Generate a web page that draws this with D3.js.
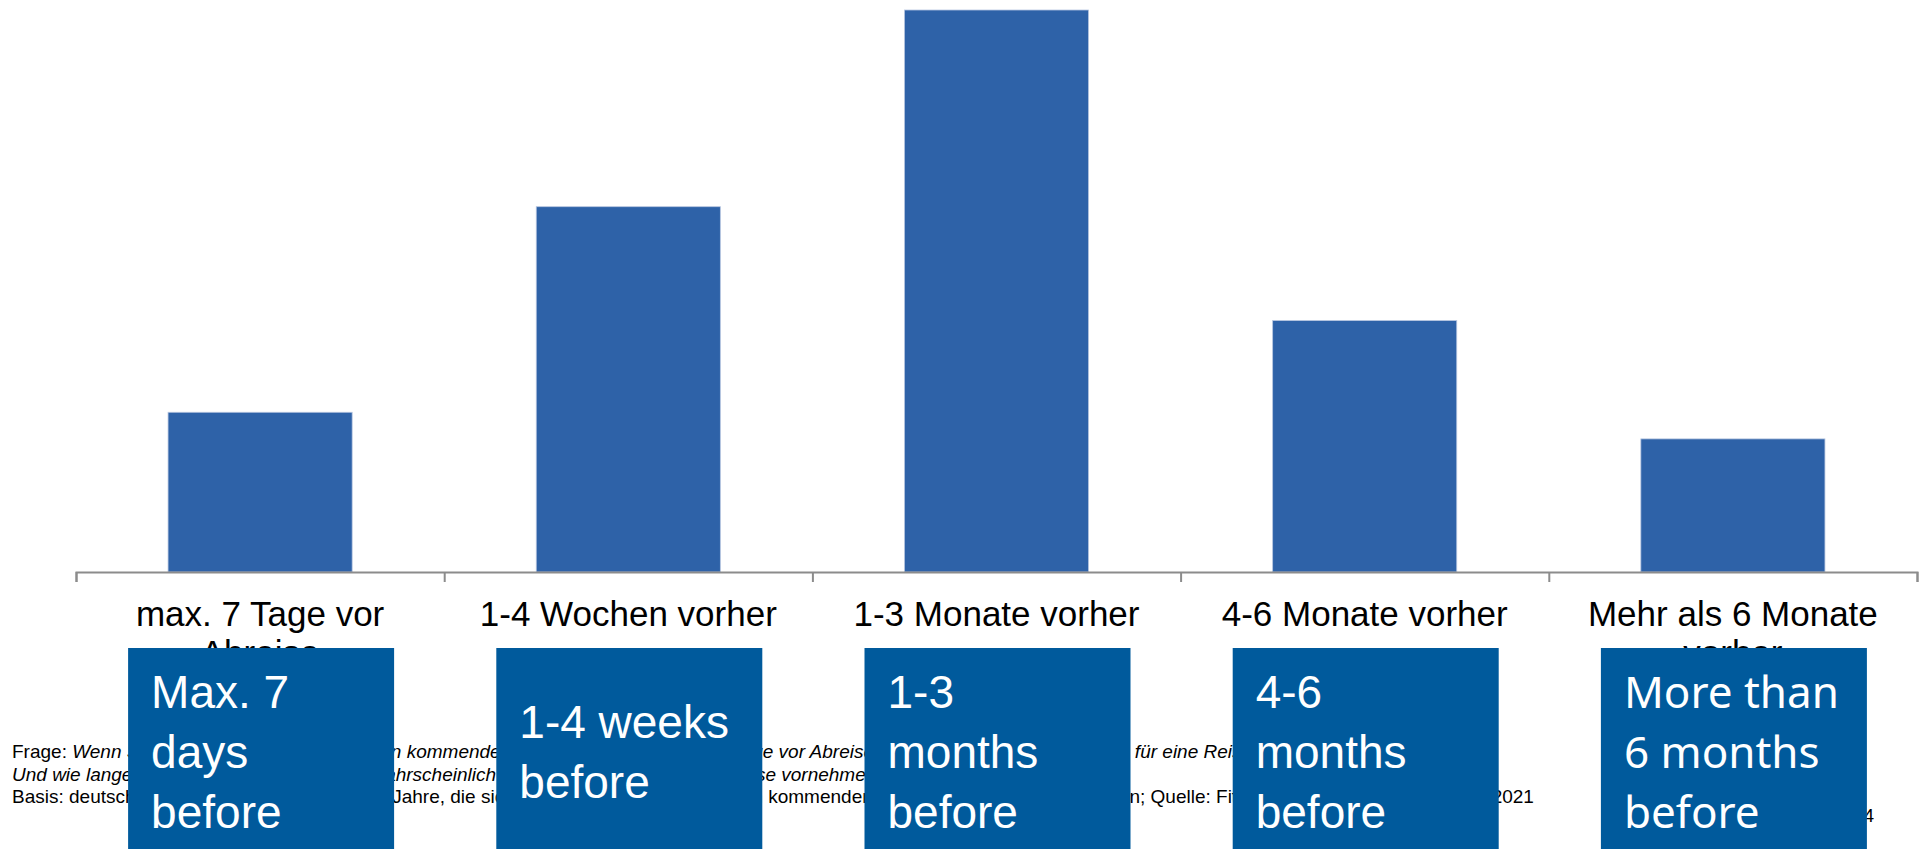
<!DOCTYPE html>
<html>
<head>
<meta charset="utf-8">
<script src="https://cdn.jsdelivr.net/npm/d3@7"></script>
<style>
  body { margin: 0; background: #fff; }
  svg { display: block; }
</style>
</head>
<body>
<div id="chart"></div>
<script>
const WIDTH = 1921;
const HEIGHT = 849;

// data (share of respondents, %)
const categories = [
    "max. 7 Tage vor Abreise",
    "1-4 Wochen vorher",
    "1-3 Monate vorher",
    "4-6 Monate vorher",
    "Mehr als 6 Monate vorher"
];
const values = [10.8, 24.7, 38.0, 17.0, 9.0];

// English overlay captions, one list of lines per category
const captions = [
    ["Max. 7", "days", "before"],
    ["1-4 weeks", "before"],
    ["1-3", "months", "before"],
    ["4-6", "months", "before"],
    ["More than", "6 months", "before"]
];

const footerLines = [
    [["Frage: ", "normal"], ["Wenn Sie an Ihre nächste Reise in den kommenden zwölf Monaten: Wie viele Tage vor Abreise buchen Sie erfahrungsgemäß für eine Reise?", "italic"]],
    [["Und wie lange vor der Abreise werden Sie wahrscheinlich die Buchung der nächsten Reise vornehmen?", "italic"]],
    [["Basis: deutschsprachige Internet-User ab 18 Jahre, die sich gut vorstellen können, in den kommenden Monaten eine Reise zu buchen; Quelle: Fittkau & Maaß, W3B-Report 09/2021", "normal"]]
];
const pageNumber = "4";

const AXIS_Y = 572;
const X0 = 76, X1 = 1917;

var svg = d3.select('#chart')
    .append('svg')
    .attr('width', WIDTH)
    .attr('height', HEIGHT);

let x = d3.scaleBand()
    .domain(categories)
    .range([X0, X1])
    .paddingInner(0.5)
    .paddingOuter(0.25);

let y = d3.scaleLinear()
    .domain([0, 38])
    .range([AXIS_Y, 10]);

// bars
svg.selectAll('rect.bar')
    .data(values)
    .enter()
    .append('rect')
    .attr('class', 'bar')
    .attr('x', (d, i) => x(categories[i]))
    .attr('y', d => y(d))
    .attr('width', x.bandwidth())
    .attr('height', d => AXIS_Y - y(d))
    .attr('fill', '#2e62a8')
    .attr('stroke', '#b7c6e0')
    .attr('stroke-width', 0.8);

// category axis: ticks between the categories
let boundary = d3.scaleLinear().domain([0, categories.length]).range([X0, X1]);
let axis = svg.append('g')
    .attr('transform', `translate(0,${AXIS_Y})`)
    .call(d3.axisBottom(boundary).ticks(categories.length).tickSize(10).tickFormat('').tickSizeOuter(10));
axis.select('.domain').attr('stroke', '#8c8c8c').attr('stroke-width', 2);
axis.selectAll('.tick line').attr('stroke', '#8c8c8c').attr('stroke-width', 2);

// category labels, wrapped to the category width
function wrap(textSel, width) {
    textSel.each(function () {
        let text = d3.select(this);
        let words = text.text().split(/\s+/);
        let line = [];
        let xPos = text.attr('x');
        let tspan = text.text(null).append('tspan').attr('x', xPos).attr('dy', 0);
        for (let w of words) {
            line.push(w);
            tspan.text(line.join(' '));
            if (tspan.node().getComputedTextLength() > width && line.length > 1) {
                line.pop();
                tspan.text(line.join(' '));
                line = [w];
                tspan = text.append('tspan').attr('x', xPos).attr('dy', '1.12em').text(w);
            }
        }
    });
}

svg.selectAll('text.cat')
    .data(categories)
    .enter()
    .append('text')
    .attr('class', 'cat')
    .attr('x', d => x(d) + x.bandwidth() / 2)
    .attr('y', 626)
    .attr('text-anchor', 'middle')
    .attr('font-family', 'Liberation Sans, Arial, sans-serif')
    .attr('font-size', 35)
    .attr('fill', '#000')
    .text(d => d)
    .call(wrap, x.step() - 8);

// footer notes
let footer = svg.append('g')
    .attr('font-family', 'Liberation Sans, Arial, sans-serif')
    .attr('font-size', 19)
    .attr('fill', '#000');
footerLines.forEach((parts, i) => {
    let t = footer.append('text').attr('x', 12).attr('y', 758 + i * 22.5);
    parts.forEach(p => t.append('tspan').attr('font-style', p[1]).text(p[0]));
});
footer.append('text')
    .attr('x', 1874)
    .attr('y', 822)
    .attr('text-anchor', 'end')
    .text(pageNumber);

// blue caption boxes laid over the chart
const BOX_W = 266, BOX_TOP = 648;
let boxes = svg.selectAll('g.box')
    .data(captions)
    .enter()
    .append('g')
    .attr('class', 'box')
    .attr('transform', (d, i) => `translate(${x(categories[i]) + x.bandwidth() / 2 - BOX_W / 2 + 1},${BOX_TOP})`);

boxes.append('rect')
    .attr('width', BOX_W)
    .attr('height', HEIGHT - BOX_TOP + 10)
    .attr('fill', '#005a9c');

boxes.each(function (lines, i) {
    let g = d3.select(this);
    let last = i === captions.length - 1;
    let mid = (lines.length - 1) / 2;
    g.selectAll('text')
        .data(lines)
        .enter()
        .append('text')
        .attr('x', 23)
        .attr('y', (d, j) => 120 + (j - mid) * 60)
        .attr('font-family', last ? 'Noto Sans, sans-serif' : 'Liberation Sans, Arial, sans-serif')
        .attr('font-size', last ? 44 : 46)
        .attr('fill', '#fff')
        .text(d => d);
});
</script>
</body>
</html>
